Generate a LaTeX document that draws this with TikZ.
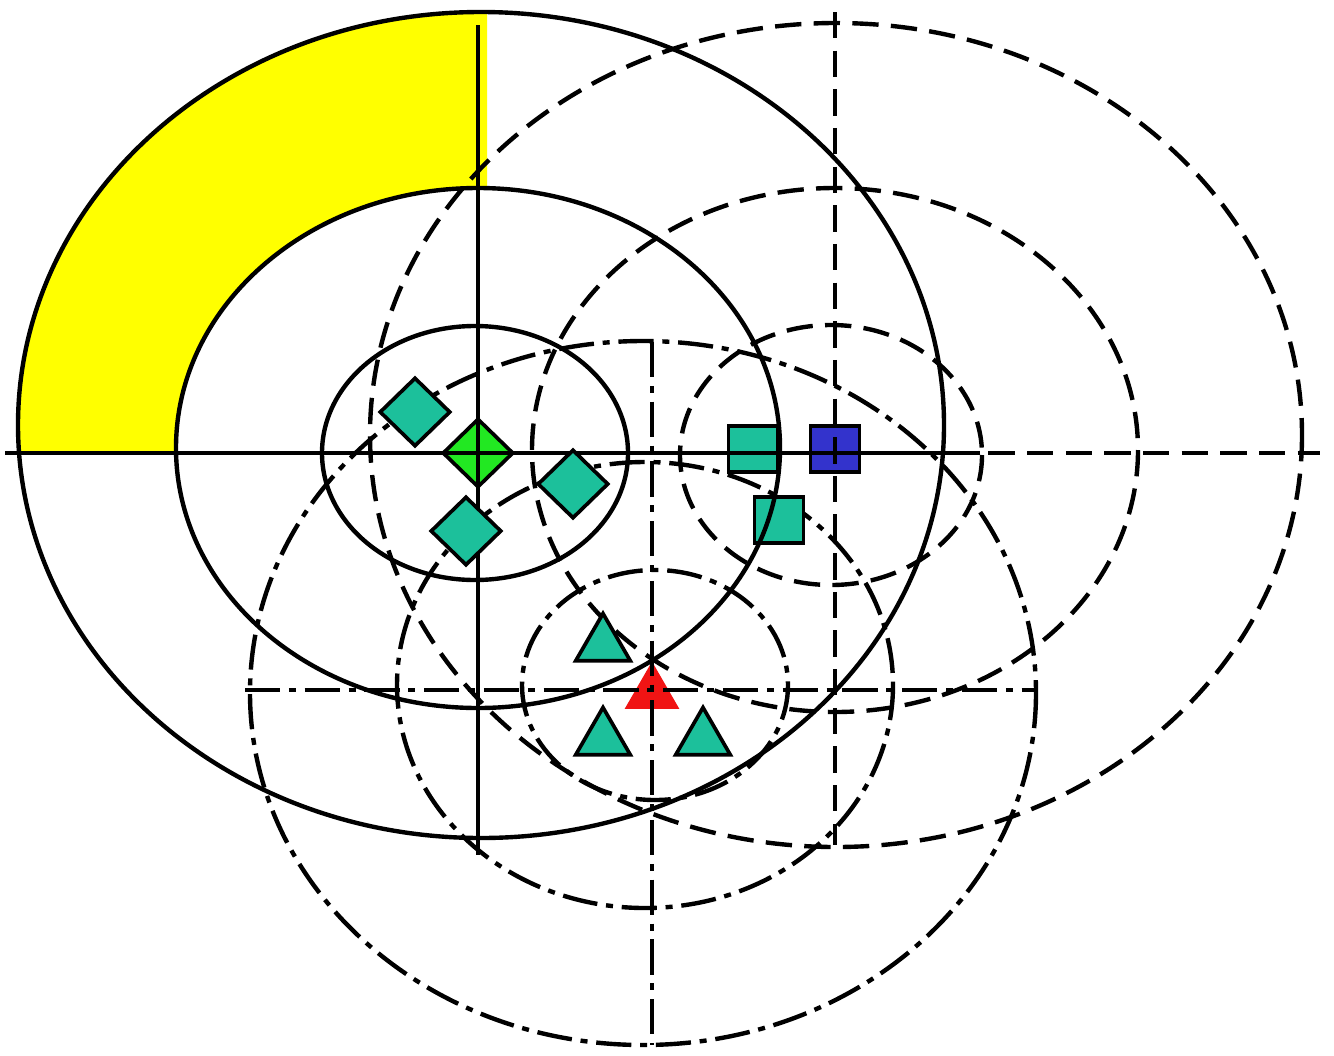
\documentclass[tikz,border=0pt]{standalone}
\usepackage{tikz}
\usetikzlibrary{shapes.geometric,positioning}
\definecolor{bandyellow}{RGB}{255,255,0}
\definecolor{markteal}{RGB}{28,192,155}
\definecolor{centgreen}{RGB}{34,232,34}
\definecolor{centblue}{RGB}{51,51,204}
\definecolor{centred}{RGB}{240,20,20}

\begin{document}
\begin{tikzpicture}[
    x=0.02cm, y=-0.02cm,
    solidline/.style={line width=2.5pt},
    dashline/.style={line width=2.5pt, dash pattern=on 15pt off 7pt},
    dotdashline/.style={line width=2.5pt, dash pattern=on 20pt off 5pt on 4pt off 5pt},
    diam/.style={diamond, draw, line width=2.1pt, inner sep=0pt, minimum width=1.42cm, minimum height=1.38cm, fill=markteal},
    sqr/.style={rectangle, draw, line width=2.1pt, inner sep=0pt, minimum width=0.98cm, minimum height=0.92cm, fill=markteal},
    tri/.style={regular polygon, regular polygon sides=3, draw, line width=2.1pt, inner sep=0pt, minimum size=1.26cm, fill=markteal}
]
\useasboundingbox (0,0) rectangle (1334,1055);

% Yellow band, upper left quarter
\begin{scope}
\clip (0,0) rectangle (487,453);
\fill[bandyellow, even odd rule] (481,425) ellipse [x radius=463, y radius=413]
    (478,448) ellipse [x radius=302, y radius=260];
\end{scope}

% Centre markers
\node[diam, fill=centgreen] (greenc) at (478,453) {};
\node[sqr, fill=centblue] (bluec) at (835,449) {};
\node[tri, fill=centred, draw=none] (redc) at (652,693) {};

% Dashed set
\draw[dashline] (831,455) ellipse [x radius=151, y radius=130];
\draw[dashline] (835,450) ellipse [x radius=303, y radius=262];
\draw[dashline] (836,435) ellipse [x radius=466, y radius=412];
\draw[dashline] (370,453) -- (1320,453);
\draw[dashline] (835,12) -- (835,845);

% Dash-dot set
\draw[dotdashline] (655,685) ellipse [x radius=133, y radius=115];
\draw[dotdashline] (645,685) ellipse [x radius=248, y radius=223];
\draw[dotdashline] (643,693) ellipse [x radius=393, y radius=352];
\draw[dotdashline] (245,690) -- (1035,690);
\draw[dotdashline] (652,342) -- (652,1045);

% Squares and triangles
\node[sqr] (sq1) at (753,449) {};
\node[sqr] (sq2) at (779,520) {};
\node[tri] (tr1) at (603,645) {};
\node[tri] (tr2) at (603,739) {};
\node[tri] (tr3) at (703,739) {};

% Solid set
\draw[solidline] (475,453) ellipse [x radius=153, y radius=127];
\draw[solidline] (478,448) ellipse [x radius=302, y radius=260];
\draw[solidline] (481,425) ellipse [x radius=463, y radius=413];
\draw[solidline] (5,453) -- (980,453);
\draw[solidline] (478,25) -- (478,855);

% Diamonds
\node[diam] (dm1) at (415,412) {};
\node[diam] (dm2) at (573,484) {};
\node[diam] (dm3) at (466,531) {};

\end{tikzpicture}
\end{document}
